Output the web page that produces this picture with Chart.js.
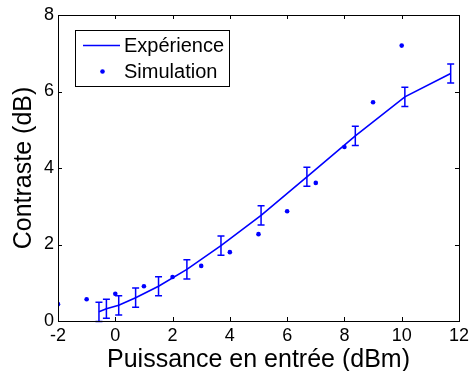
<!DOCTYPE html>
<html>
<head>
<meta charset="utf-8">
<script src="https://cdn.jsdelivr.net/npm/chart.js@4"></script>
<style>
  html, body { margin: 0; padding: 0; background: #fff; }
  #wrap { width: 473px; height: 371px; }
</style>
</head>
<body>
<div id="wrap"><canvas id="myChart"></canvas></div>
<script>
// experience (line + error bars)
const expX = [-0.57, -0.31, 0.12, 0.71, 1.51, 2.5, 3.69, 5.09, 6.69, 8.38, 10.11, 11.71];
const expY = [0.24, 0.32, 0.41, 0.61, 0.91, 1.35, 1.97, 2.76, 3.77, 4.84, 5.86, 6.47];
const expErr = [0.25, 0.25, 0.25, 0.25, 0.25, 0.25, 0.25, 0.25, 0.25, 0.25, 0.25, 0.25];
// simulation (dots)
const simX = [-2, -1, 0, 1, 2, 3, 4, 5, 6, 7, 8, 9, 10];
const simY = [0.44, 0.57, 0.71, 0.91, 1.15, 1.44, 1.8, 2.27, 2.87, 3.61, 4.55, 5.72, 7.2];
const xTicks = [-2, 0, 2, 4, 6, 8, 10, 12];
const yTicks = [0, 2, 4, 6, 8];

const BLUE = "#0000ff";
const FONT = "Liberation Sans, Arial, sans-serif";

// box, inward ticks, error bars, legend
const matlabPlugin = {
  id: "matlab",
  afterDatasetsDraw(chart) {
    const ctx = chart.ctx;
    const a = chart.chartArea;
    const xs = chart.scales.x, ys = chart.scales.y;
    ctx.save();
    // error bars
    ctx.strokeStyle = BLUE;
    ctx.lineWidth = 1.5;
    expX.forEach((x, i) => {
      const px = xs.getPixelForValue(x);
      const top = ys.getPixelForValue(expY[i] + expErr[i]);
      const bot = ys.getPixelForValue(expY[i] - expErr[i]);
      ctx.beginPath();
      ctx.moveTo(px, top); ctx.lineTo(px, bot);
      ctx.moveTo(px - 3.5, top); ctx.lineTo(px + 3.5, top);
      ctx.moveTo(px - 3.5, bot); ctx.lineTo(px + 3.5, bot);
      ctx.stroke();
    });
    // box
    ctx.strokeStyle = "#000";
    ctx.lineWidth = 1;
    ctx.strokeRect(Math.round(a.left) + 0.5, Math.round(a.top) + 0.5,
      Math.round(a.right - a.left), Math.round(a.bottom - a.top));
    ctx.beginPath();
    xTicks.forEach((t) => {
      const px = Math.round(xs.getPixelForValue(t)) + 0.5;
      ctx.moveTo(px, a.bottom); ctx.lineTo(px, a.bottom - 4);
      ctx.moveTo(px, a.top); ctx.lineTo(px, a.top + 4);
    });
    yTicks.forEach((t) => {
      const py = Math.round(ys.getPixelForValue(t)) + 0.5;
      ctx.moveTo(a.left, py); ctx.lineTo(a.left + 4, py);
      ctx.moveTo(a.right, py); ctx.lineTo(a.right - 4, py);
    });
    ctx.stroke();
    // legend
    ctx.fillStyle = "#fff";
    ctx.fillRect(75, 30, 154, 56);
    ctx.strokeRect(75.5, 30.5, 154, 56);
    ctx.strokeStyle = BLUE;
    ctx.lineWidth = 1.5;
    ctx.beginPath();
    ctx.moveTo(83, 45.5); ctx.lineTo(120, 45.5);
    ctx.stroke();
    ctx.fillStyle = BLUE;
    ctx.beginPath();
    ctx.arc(102.5, 71.5, 2.3, 0, Math.PI * 2);
    ctx.fill();
    ctx.fillStyle = "#000";
    ctx.font = "20px " + FONT;
    ctx.textBaseline = "middle";
    ctx.fillText("Expérience", 124, 46);
    ctx.fillText("Simulation", 124, 72);
    ctx.restore();
  },
};

const config = {
  type: "scatter",
  data: {
    datasets: [
      {
        label: "Expérience",
        type: "line",
        data: expX.map((x, i) => ({ x: x, y: expY[i] })),
        borderColor: BLUE,
        borderWidth: 1.6,
        pointRadius: 0,
        tension: 0,
        fill: false,
      },
      {
        label: "Simulation",
        data: simX.map((x, i) => ({ x: x, y: simY[i] })),
        backgroundColor: BLUE,
        borderColor: BLUE,
        pointRadius: 2.3,
        borderWidth: 0,
      },
    ],
  },
  options: {
    responsive: true,
    maintainAspectRatio: false,
    animation: false,
    layout: { padding: { top: 15, right: 12, left: 0, bottom: 0 } },
    plugins: {
      legend: { display: false },
      tooltip: { enabled: false },
    },
    scales: {
      x: {
        type: "linear",
        min: -2,
        max: 12,
        afterBuildTicks: (s) => { s.ticks = xTicks.map((v) => ({ value: v })); },
        afterFit: (s) => { s.height = 50; },
        grid: { display: false, drawTicks: false },
        border: { display: false },
        ticks: { color: "#000", font: { family: FONT, size: 18 }, padding: 4, maxRotation: 0 },
        title: { display: true, text: "Puissance en entrée (dBm)", color: "#000", font: { family: FONT, size: 25 }, padding: { top: 0, bottom: -4 } },
      },
      y: {
        min: 0,
        max: 8,
        afterBuildTicks: (s) => { s.ticks = yTicks.map((v) => ({ value: v })); },
        afterFit: (s) => { s.width = 58; },
        grid: { display: false, drawTicks: false },
        border: { display: false },
        ticks: { color: "#000", font: { family: FONT, size: 18 }, padding: 4 },
        title: { display: true, text: "Contraste (dB)", color: "#000", font: { family: FONT, size: 25 }, padding: { top: 9, bottom: 0 } },
      },
    },
  },
  plugins: [matlabPlugin],
};

new Chart(document.getElementById("myChart"), config);
</script>
</body>
</html>
